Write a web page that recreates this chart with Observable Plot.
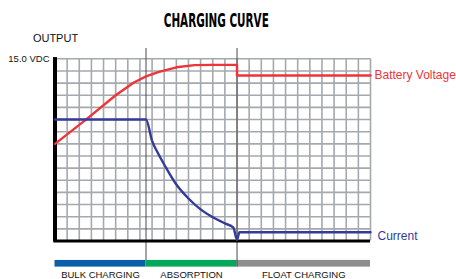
<!DOCTYPE html>
<html>
<head>
<meta charset="utf-8">
<script src="https://cdn.jsdelivr.net/npm/d3@7"></script>
<script src="https://cdn.jsdelivr.net/npm/@observablehq/plot@0.6"></script>
<style>
  html, body { margin: 0; padding: 0; background: #fff; }
  #chart { width: 456px; height: 279px; overflow: hidden; }
</style>
</head>
<body>
<div id="chart"></div>
<script>
// Time in grid columns, output in VDC
const voltageX = [0, 2.5, 5, 6.5, 7.5, 8.5, 10, 11.5, 13, 15, 15, 26];
const voltageY = [8.0, 9.95, 12.0, 13.05, 13.55, 13.9, 14.3, 14.48, 14.5, 14.5, 13.62, 13.62];
const currentX = [0, 7.5, 8.0, 8.5, 9.0, 10, 11, 12, 13, 14, 14.7, 15.0, 15.2, 26];
const currentY = [10, 10, 8.25, 7.2, 6.3, 4.65, 3.5, 2.6, 1.95, 1.45, 1.1, 0.1, 0.72, 0.72];
const phaseNames = ["BULK CHARGING", "ABSORPTION", "FLOAT CHARGING"];
const phaseStart = [0, 7.5, 15];
const phaseEnd = [7.5, 15, 26];
const phaseColors = ["#0a5fa8", "#00a85a", "#8e8e8e"];
const seriesNames = ["Battery Voltage", "Current"];
const seriesColors = ["#ee3439", "#353b98"];
const title = "CHARGING CURVE";
const yLabel = "OUTPUT";
const yTopLabel = "15.0 VDC";

const voltage = voltageX.map((x, i) => ({x, y: voltageY[i]}));
const current = currentX.map((x, i) => ({x, y: currentY[i]}));
const phases = phaseNames.map((name, i) => ({name, x1: phaseStart[i], x2: phaseEnd[i], color: phaseColors[i]}));

const chart = Plot.plot({
  width: 456,
  height: 279,
  marginLeft: 54.5,
  marginRight: 86,
  marginTop: 58.3,
  marginBottom: 38.5,
  x: {domain: [0, 26], axis: null},
  y: {domain: [0, 15], axis: null},
  style: {fontFamily: "'Liberation Sans', Arial, sans-serif", background: "#fff", overflow: "visible"},
  marks: [
    Plot.ruleX(d3.range(1, 27), {y1: 0, y2: 15, stroke: "#a4a9ae", strokeWidth: 1.6}),
    Plot.ruleY(d3.range(1, 16), {x1: 0, x2: 26, stroke: "#a4a9ae", strokeWidth: 1.6}),
    Plot.rect(phases, {x1: "x1", x2: "x2", y1: -1.6, y2: -2.15, fill: "color"}),
    Plot.ruleX([7.5], {y1: -1.6, y2: 15.85, stroke: "#4a4a4a", strokeWidth: 1}),
    Plot.ruleX([15], {y1: -2.15, y2: 15.85, stroke: "#4a4a4a", strokeWidth: 1}),
    Plot.ruleY([0], {x1: -0.1, x2: 26, stroke: "#000", strokeWidth: 3}),
    Plot.ruleX([0], {y1: -0.05, y2: 15.1, stroke: "#000", strokeWidth: 4}),
    Plot.line(voltage, {x: "x", y: "y", stroke: seriesColors[0], strokeWidth: 2.4, curve: "linear"}),
    Plot.line(current, {x: "x", y: "y", stroke: seriesColors[1], strokeWidth: 2.4, curve: "monotone-x"}),
    Plot.text([seriesNames[0]], {x: 26, y: voltageY[voltageY.length - 1], dx: 4, textAnchor: "start", fill: seriesColors[0], fontSize: 12}),
    Plot.text([seriesNames[1]], {x: 26, y: currentY[currentY.length - 1], dx: 7, dy: 4, textAnchor: "start", fill: seriesColors[1], fontSize: 12}),
    Plot.text(phases, {x: d => (d.x1 + d.x2) / 2, y: -2.78, text: "name", fontSize: 9.5, fill: "#111"}),
    Plot.text([yLabel], {x: 0, y: 16.67, dx: 0.5, fontSize: 11, fill: "#111", letterSpacing: "0.6px"}),
    Plot.text([yTopLabel], {x: 0, y: 15, dx: -5.5, dy: 0, textAnchor: "end", fontSize: 9.5, fill: "#111"}),
    Plot.text([title], {x: 13.29, y: 17.65, lineAnchor: "bottom", fontSize: 19, fontWeight: "bold", fill: "#000",
      fontFamily: "'DejaVu Sans Condensed', 'DejaVu Sans', sans-serif", className: "ctitle"})
  ]
});

d3.select(chart).selectAll(".ctitle text")
  .attr("textLength", 105)
  .attr("lengthAdjust", "spacingAndGlyphs");

document.getElementById("chart").appendChild(chart);
</script>
</body>
</html>
